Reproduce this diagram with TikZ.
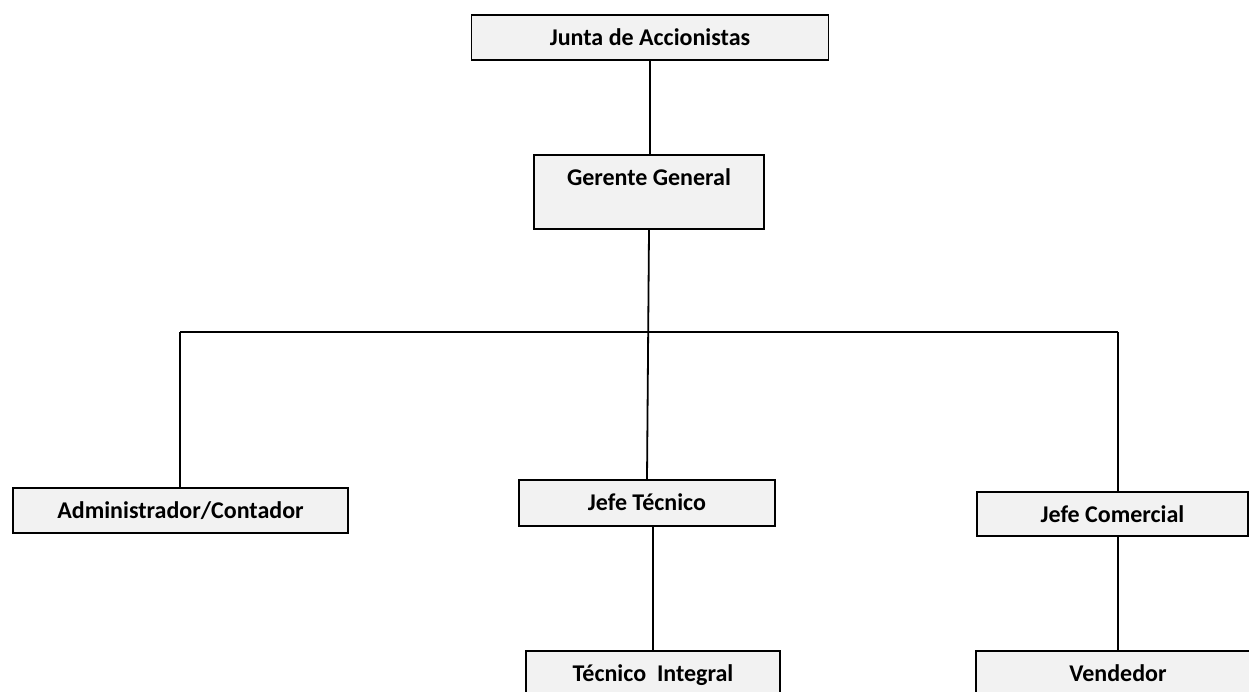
\documentclass[tikz,border=0pt]{standalone}
\usepackage{fontspec}
\setmainfont{Carlito}
\begin{document}
\begin{tikzpicture}[x=1pt,y=-1pt,
  box/.style={draw=black,line width=1.9pt,fill=boxgray,rectangle,inner sep=0pt,
    text height=30.5pt,text depth=14.5pt,font=\fontsize{24}{27}\selectfont\bfseries},
  link/.style={draw=black,line width=1.8pt}]
\definecolor{boxgray}{HTML}{F2F2F2}
\useasboundingbox (0,0) rectangle (1249,692);
\node[box,minimum width=357pt] (jun) at (650,37.5) {Junta de Accionistas};
\node[box,minimum width=230pt,text depth=44pt] (ger) at (649,192) {Gerente General};
\node[box,minimum width=335pt] (adm) at (180.5,510.5) {Administrador/Contador};
\node[box,minimum width=256pt,text depth=15.5pt] (jt) at (647,503) {Jefe Técnico};
\node[box,minimum width=271pt,text depth=13.5pt] (jc) at (1112.5,514) {Jefe Comercial};
\node[box,minimum width=254pt,text depth=50pt] (ti) at (653,691) {Técnico~ Integral};
\node[box,minimum width=284pt,text depth=50pt] (ven) at (1118,691) {Vendedor};
\coordinate (bl) at (180,332);
\coordinate (br) at (1118,332);
\draw[link] (jun.south) -- (ger.north -| jun.south);
\draw[link] (ger.south) -- (jt.north);
\draw[link] (bl) -- (br);
\draw[link] (bl) -- (bl |- adm.north);
\draw[link] (br) -- (br |- jc.north);
\draw[link] (ti.north |- jt.south) -- (ti.north);
\draw[link] (br |- jc.south) -- (ven.north);
\end{tikzpicture}
\end{document}
